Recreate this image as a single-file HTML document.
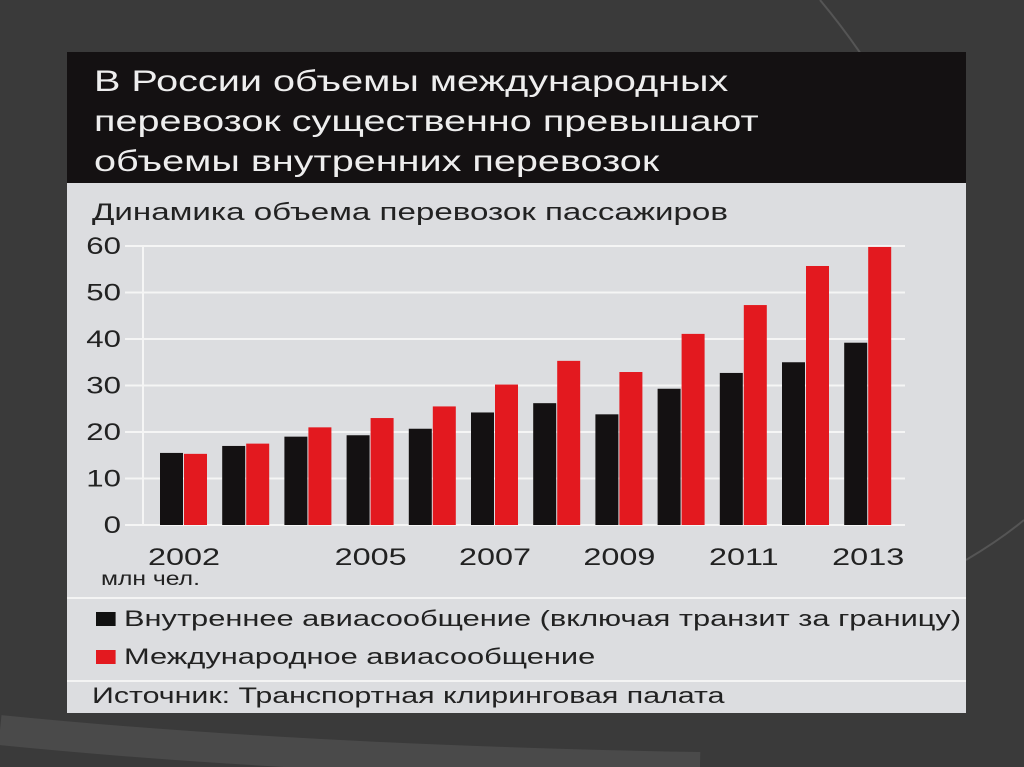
<!DOCTYPE html>
<html><head><meta charset="utf-8"><style>
body{margin:0;width:1024px;height:767px;background:#3a3a3a;overflow:hidden;font-family:"Liberation Sans","DejaVu Sans",sans-serif;position:relative}
#panel{position:absolute;left:67px;top:52px;width:899px;height:661px;background:#dcdde0}
#hdr{position:absolute;left:0;top:0;width:899px;height:131px;background:#141112;color:#eee;font-size:30px;line-height:40px;padding:10px 0 0 27px;box-sizing:border-box}
.t{position:absolute;color:#222;white-space:nowrap;transform-origin:0 0}
.sq{display:inline-block;width:14px;height:14px;margin-right:6px}
</style></head><body>
<svg width="1024" height="767" style="position:absolute;left:0;top:0">
<path d="M820 0 Q870 60 900 120" stroke="#555" stroke-width="2" fill="none"/>
<path d="M966 560 Q1000 540 1024 520" stroke="#555" stroke-width="2" fill="none"/>
<path d="M0 730 Q300 760 700 767" stroke="#4a4a4a" stroke-width="30" fill="none"/>
</svg>
<div id="panel">
<div id="hdr"><div style="transform:scaleX(1.32);transform-origin:0 0;white-space:nowrap">В России объемы международных<br>перевозок существенно превышают<br>объемы внутренних перевозок</div></div>
<div class="t" style="left:25px;top:147px;font-size:24px;transform:scaleX(1.38)">Динамика объема перевозок пассажиров</div>
<svg id="chart" width="899" height="661" style="position:absolute;left:0;top:0"></svg>
<div class="t" style="left:34px;top:517px;font-size:19px;transform:scaleX(1.3)">млн чел.</div>
<div style="position:absolute;left:0;top:545px;width:899px;height:2px;background:#f4f4f4"></div>
<div class="t" style="left:29px;top:554px;font-size:22px;transform:scaleX(1.4)"><span class="sq" style="background:#111"></span>Внутреннее авиасообщение (включая транзит за границу)</div>
<div class="t" style="left:29px;top:592px;font-size:22px;transform:scaleX(1.4)"><span class="sq" style="background:#e3191f"></span>Международное авиасообщение</div>
<div style="position:absolute;left:0;top:628px;width:899px;height:2px;background:#f4f4f4"></div>
<div class="t" style="left:25px;top:631px;font-size:22px;transform:scaleX(1.38)">Источник: Транспортная клиринговая палата</div>
</div>
<script>
const years=[2002,2003,2004,2005,2006,2007,2008,2009,2010,2011,2012,2013];
const domestic=[15.5,17,19,19.3,20.7,24.2,26.2,23.8,29.3,32.7,35,39.2];
const international=[15.3,17.5,21,23,25.5,30.2,35.3,32.9,41.1,47.3,55.7,59.8];
const yTicks=[0,10,20,30,40,50,60];
const xLabels=["2002","","","2005","","2007","","2009","","2011","","2013"];
const svg=document.getElementById('chart');const NS='http://www.w3.org/2000/svg';
const y=v=>473-v*4.65;
const gx=i=>93+i*62.2;
function mk(t,a){const e=document.createElementNS(NS,t);for(const k in a)e.setAttribute(k,a[k]);svg.appendChild(e);return e;}
yTicks.forEach(v=>{const l=mk('line',{x1:58,x2:838,y1:y(v),y2:y(v),stroke:'#f5f5f5','stroke-width':2});

const t=mk('text',{x:0,y:0,'text-anchor':'end','font-size':24,fill:'#222',transform:'translate(54,'+(y(v)+8)+') scale(1.3,1)'});t.textContent=v;
});
mk('line',{x1:76,x2:76,y1:y(60),y2:y(0),stroke:'#f5f5f5','stroke-width':2});
years.forEach((yr,i)=>{
const b=mk('rect',{x:gx(i),y:y(domestic[i]),width:23,height:y(0)-y(domestic[i]),fill:'#141112'});

const r=mk('rect',{x:gx(i)+24,y:y(international[i]),width:23,height:y(0)-y(international[i]),fill:'#e3191f'});

if(xLabels[i]){const t=mk('text',{x:0,y:0,'text-anchor':'middle','font-size':24,fill:'#222',transform:'translate('+(gx(i)+24)+','+(y(0)+40)+') scale(1.35,1)'});t.textContent=xLabels[i];
}
});
</script>
</body></html>
